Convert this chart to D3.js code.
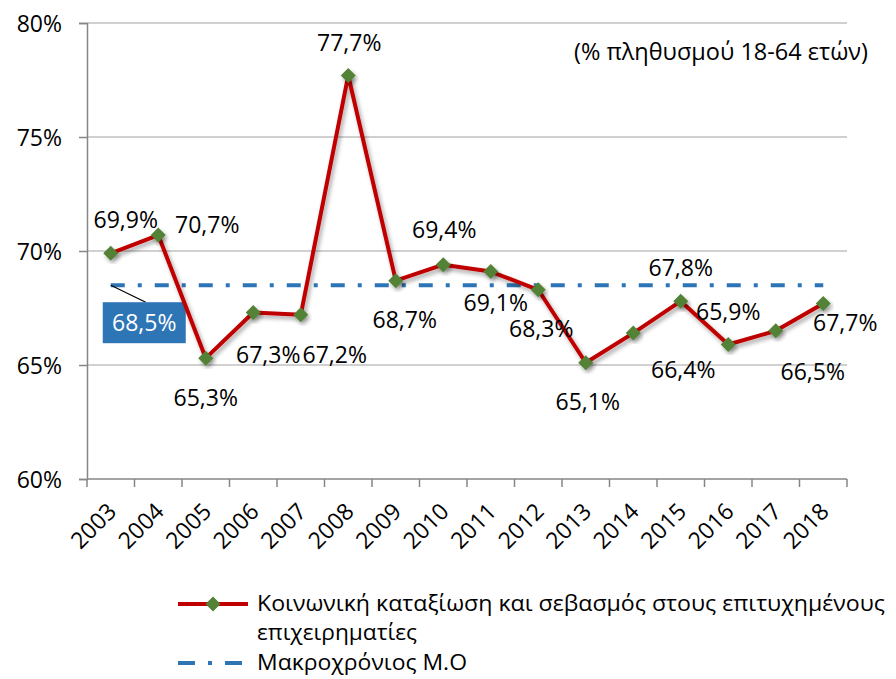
<!DOCTYPE html>
<html>
<head>
<meta charset="utf-8">
<script src="https://cdn.jsdelivr.net/npm/d3@7"></script>
<style>
  body { margin: 0; background: #fff; }
  text { font-family: "Open Sans", "Noto Sans", sans-serif; fill: #000; }
</style>
</head>
<body>
<svg id="chart" width="896" height="679"></svg>
<script>
// données
const annees = ["2003","2004","2005","2006","2007","2008","2009","2010","2011","2012","2013","2014","2015","2016","2017","2018"];
const valeurs = [69.9, 70.7, 65.3, 67.3, 67.2, 77.7, 68.7, 69.4, 69.1, 68.3, 65.1, 66.4, 67.8, 65.9, 66.5, 67.7];
const moyenne = 68.5;
const yTicks = [60, 65, 70, 75, 80];
const serieNom = "Κοινωνική καταξίωση και σεβασμός στους επιτυχημένους";
const serieNom2 = "επιχειρηματίες";
const moyenneNom = "Μακροχρόνιος Μ.Ο";
const note = "(% πληθυσμού 18-64 ετών)";

// décalage des étiquettes (placement comme dans le graphique d'origine)
const decalages = [[15,-33],[49,-10],[0,40],[15,42],[34,40],[1,-32],[9,39],[1,-35],
                   [5,31],[3,39],[2,39],[50,37],[0,-33],[0,-32],[37,41],[22,20]];

const fmt = v => d3.format(".1f")(v).replace(".", ",") + "%";

const svg = d3.select("#chart");
const gauche = 87, droite = 847, haut = 23, bas = 479;
const taille = "23px";

const x = d3.scaleBand().domain(annees).range([gauche, droite]);
const y = d3.scaleLinear().domain([60, 80]).range([bas, haut]);
const cx = d => x(d) + x.bandwidth() / 2;

// ombre
const defs = svg.append("defs");
defs.append("filter").attr("id", "ombre")
    .attr("x", "-20%").attr("y", "-20%").attr("width", "140%").attr("height", "140%")
  .append("feDropShadow")
    .attr("dx", 2).attr("dy", 3).attr("stdDeviation", 2)
    .attr("flood-color", "#000").attr("flood-opacity", 0.35);

// grille horizontale
svg.append("g")
  .selectAll("line")
  .data(yTicks.slice(1))
  .join("line")
    .attr("x1", gauche).attr("x2", droite)
    .attr("y1", d => y(d)).attr("y2", d => y(d))
    .attr("stroke", "#c0c0c0").attr("stroke-width", 1.5);

// axe Y
const axeY = svg.append("g")
  .attr("transform", `translate(${gauche},0)`)
  .call(d3.axisLeft(y).tickValues(yTicks).tickSize(8).tickPadding(10).tickFormat(d => d + "%"));
axeY.select(".domain").attr("stroke", "#868686").attr("stroke-width", 1.5);
axeY.selectAll(".tick line").attr("stroke", "#868686").attr("stroke-width", 1.5);
axeY.selectAll(".tick text")
    .style("font-family", "'Open Sans', sans-serif")
    .style("font-size", taille).attr("fill", "#000").attr("x", -25).attr("dy", "0.35em");

// axe X (graduations aux limites des catégories)
const limites = annees.map(a => x(a)).concat([droite]);
svg.append("line")
    .attr("x1", gauche).attr("x2", droite).attr("y1", bas).attr("y2", bas)
    .attr("stroke", "#868686").attr("stroke-width", 1.5);
svg.append("g")
  .selectAll("line")
  .data(limites)
  .join("line")
    .attr("x1", d => d).attr("x2", d => d)
    .attr("y1", bas).attr("y2", bas + 8)
    .attr("stroke", "#868686").attr("stroke-width", 1.5);
svg.append("g")
  .selectAll("text")
  .data(annees)
  .join("text")
    .attr("transform", d => `translate(${cx(d) + 7},${bas + 34}) rotate(-45)`)
    .attr("text-anchor", "end")
    .style("font-size", taille)
    .text(d => d);

// moyenne de long terme
svg.append("line")
    .attr("x1", cx(annees[0])).attr("x2", cx(annees[annees.length - 1]))
    .attr("y1", y(moyenne)).attr("y2", y(moyenne))
    .attr("stroke", "#2e75b6").attr("stroke-width", 4)
    .attr("stroke-dasharray", "14,13,4,13");

// étiquette de la moyenne
svg.append("line")
    .attr("x1", cx(annees[0])).attr("y1", y(moyenne))
    .attr("x2", cx(annees[0]) + 35).attr("y2", y(moyenne) + 17)
    .attr("stroke", "#000").attr("stroke-width", 1.2);
svg.append("rect")
    .attr("x", cx(annees[0]) - 8).attr("y", y(moyenne) + 17)
    .attr("width", 83).attr("height", 41)
    .attr("fill", "#2e75b6");
svg.append("text")
    .attr("x", cx(annees[0]) + 33.5).attr("y", y(moyenne) + 46)
    .attr("text-anchor", "middle")
    .style("font-size", taille).style("fill", "#fff")
    .text(fmt(moyenne));

// série
const ligne = d3.line().x((d, i) => cx(annees[i])).y(d => y(d));
svg.append("path")
    .datum(valeurs)
    .attr("d", ligne)
    .attr("fill", "none")
    .attr("stroke", "#c00000").attr("stroke-width", 4)
    .attr("stroke-linejoin", "round")
    .attr("filter", "url(#ombre)");

svg.append("g")
  .selectAll("path")
  .data(valeurs)
  .join("path")
    .attr("d", "M0,-7.5L7.5,0L0,7.5L-7.5,0Z")
    .attr("transform", (d, i) => `translate(${cx(annees[i])},${y(d)})`)
    .attr("fill", "#538135")
    .attr("filter", "url(#ombre)");

// étiquettes des valeurs
svg.append("g")
  .selectAll("text")
  .data(valeurs)
  .join("text")
    .attr("x", (d, i) => cx(annees[i]) + decalages[i][0])
    .attr("y", (d, i) => y(d) + decalages[i][1] + 8)
    .attr("text-anchor", "middle")
    .style("font-size", taille)
    .text(d => fmt(d));

// note
const noteTxt = svg.append("text")
    .attr("x", 868).attr("y", 60)
    .attr("text-anchor", "end")
    .style("font-size", taille)
    .text(note);

// légende
const tailleLeg = "21px";
const leg = svg.append("g");
leg.append("line")
    .attr("x1", 178).attr("x2", 248).attr("y1", 604).attr("y2", 604)
    .attr("stroke", "#c00000").attr("stroke-width", 4);
leg.append("path")
    .attr("d", "M0,-7.5L7.5,0L0,7.5L-7.5,0Z")
    .attr("transform", "translate(213,604)")
    .attr("fill", "#538135");
const l1 = leg.append("text").attr("x", 257).attr("y", 611).style("font-size", tailleLeg).text(serieNom);
const l2 = leg.append("text").attr("x", 257).attr("y", 640).style("font-size", tailleLeg).text(serieNom2);
leg.append("line")
    .attr("x1", 178).attr("x2", 242).attr("y1", 663).attr("y2", 663)
    .attr("stroke", "#2e75b6").attr("stroke-width", 4)
    .attr("stroke-dasharray", "17,13,4,13");
const l3 = leg.append("text").attr("x", 257).attr("y", 670).style("font-size", tailleLeg).text(moyenneNom);

// ajuster la largeur des textes comme dans l'original
[[l1, 628], [l2, 160], [l3, 210], [noteTxt, 294]].forEach(([t, w]) => {
  t.attr("textLength", w).attr("lengthAdjust", "spacingAndGlyphs");
});
</script>
</body>
</html>
